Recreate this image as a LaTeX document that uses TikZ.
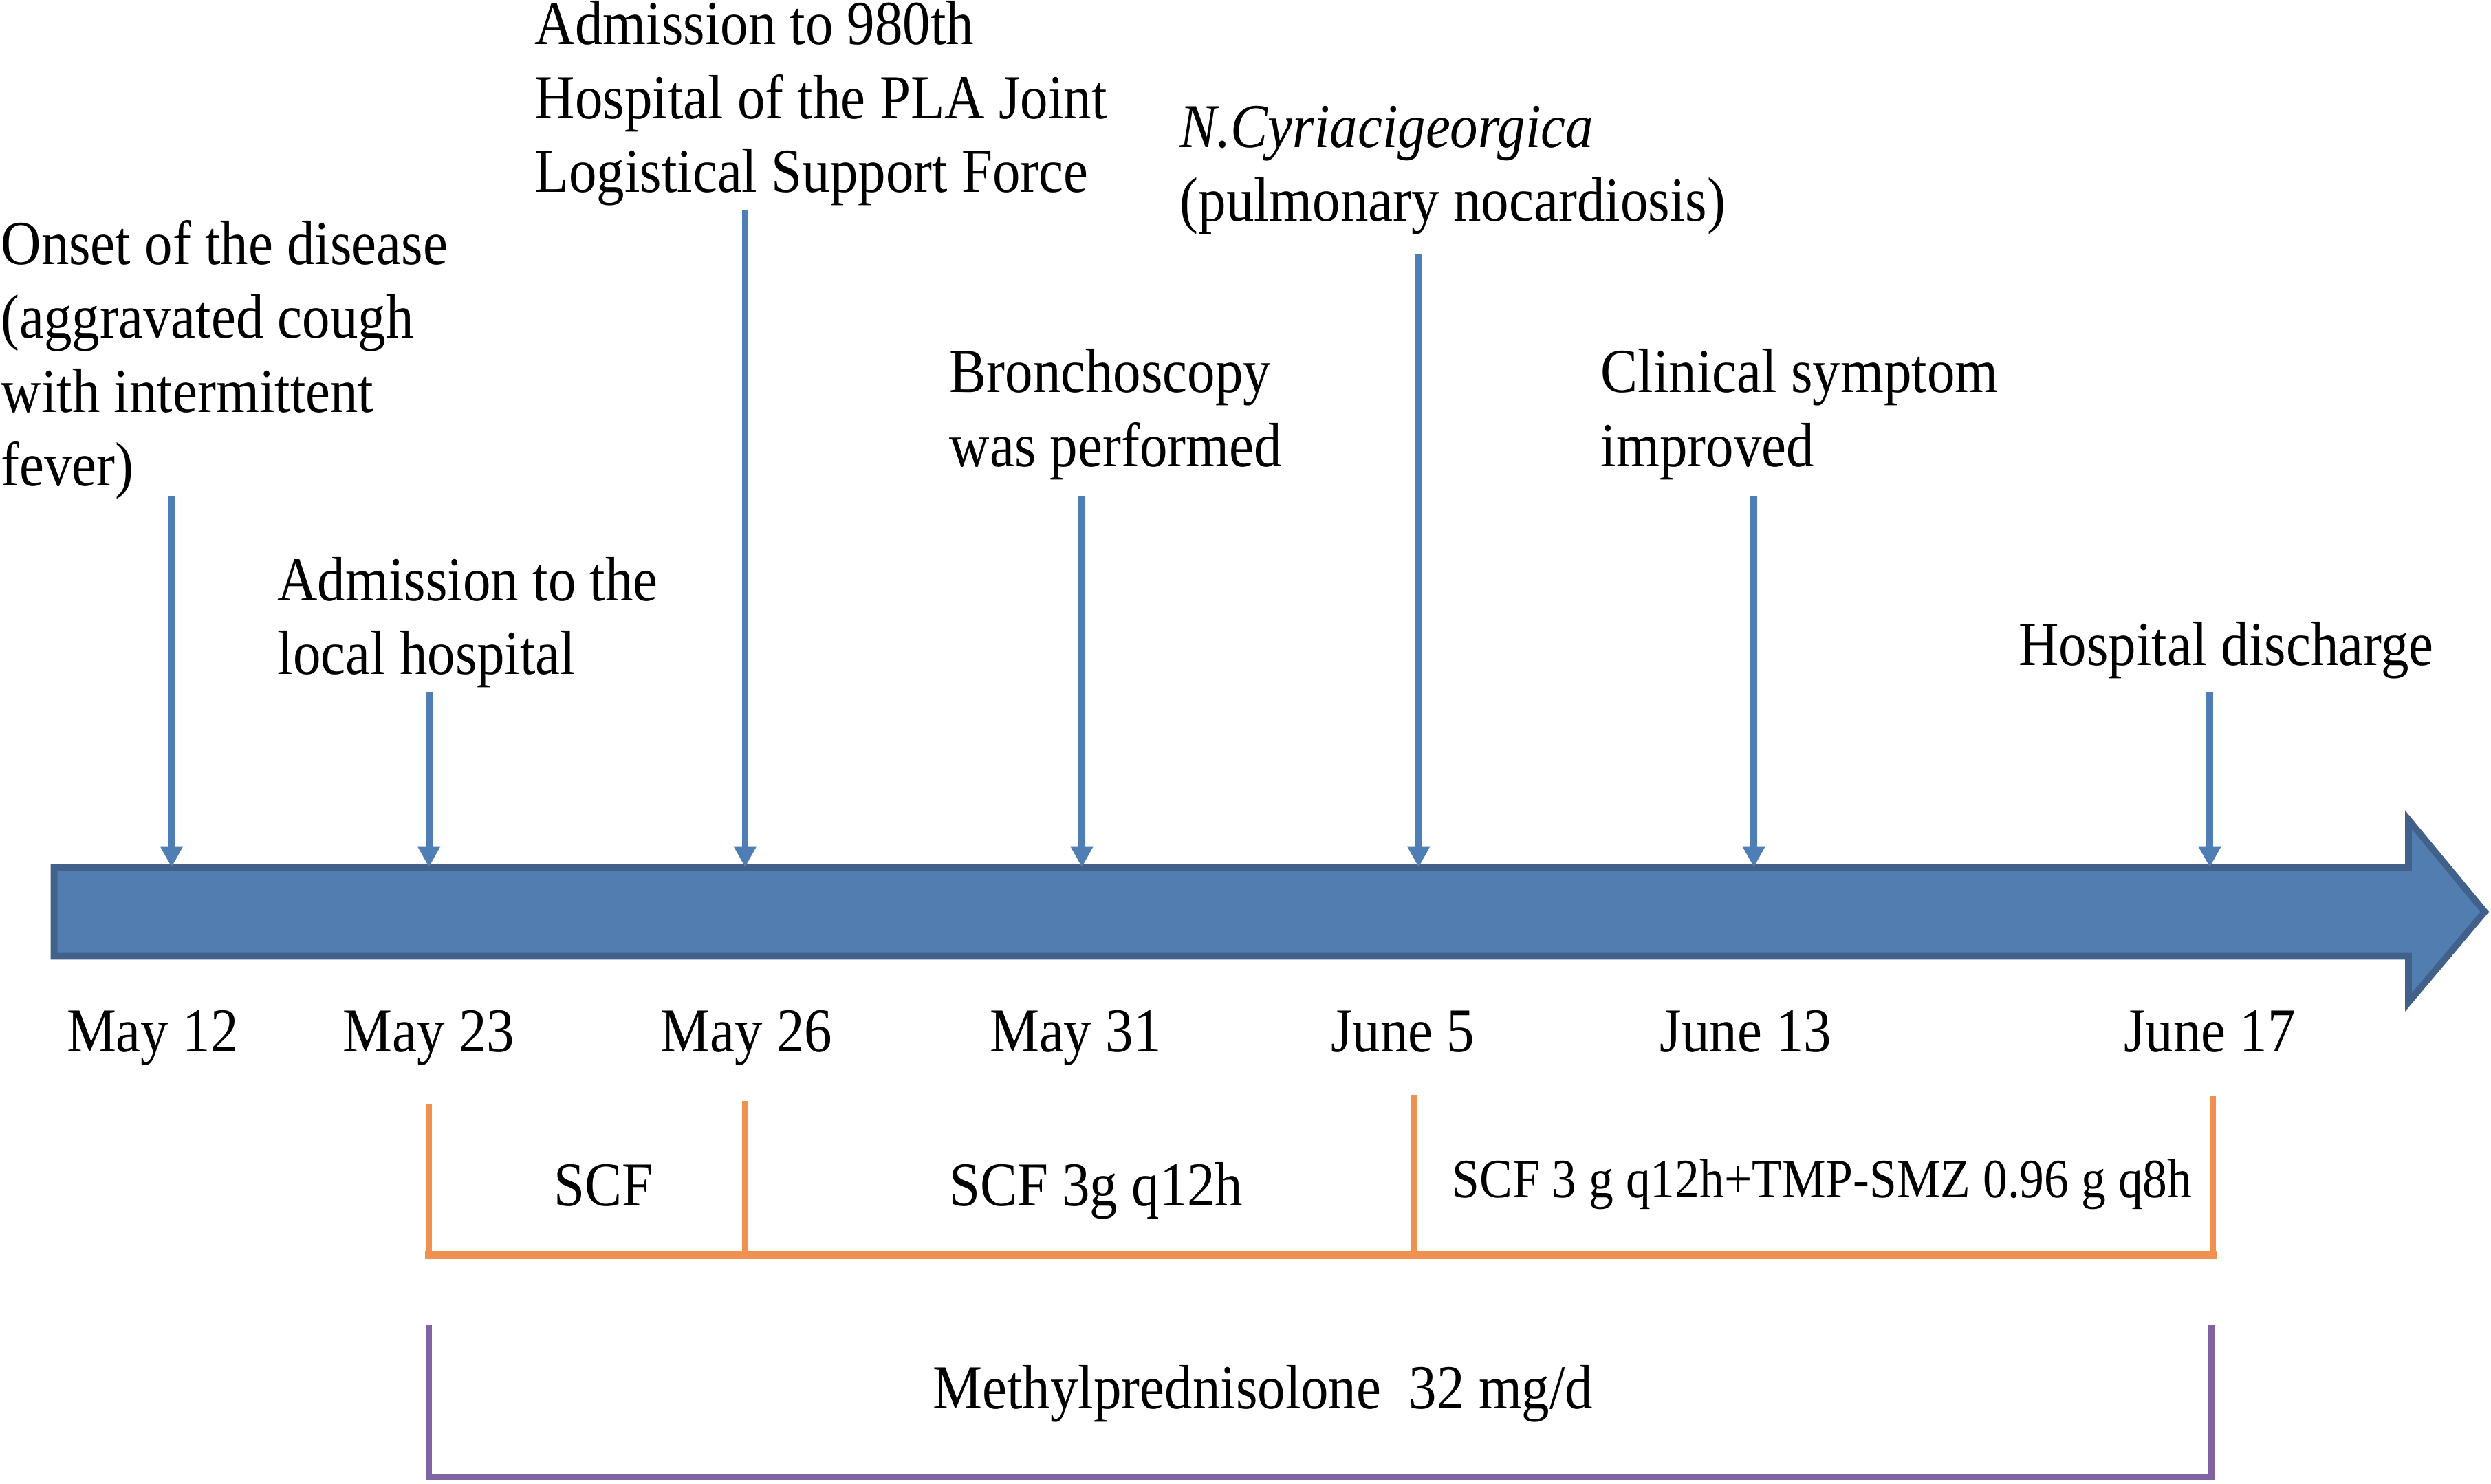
\documentclass[tikz,border=0pt]{standalone}
\usepackage{fontspec}
\setmainfont{Liberation Serif}[FakeStretch=0.89]
\usetikzlibrary{arrows.meta}
\definecolor{barblue}{RGB}{81,125,176}
\definecolor{baredge}{RGB}{65,96,138}
\definecolor{lineblue}{RGB}{79,126,180}
\definecolor{scforange}{RGB}{240,145,82}
\definecolor{mppurple}{RGB}{128,100,162}

\begin{document}
\begin{tikzpicture}[line join=miter,>={Triangle[width=1.36mm,length=1.33mm]},x=0.1mm,y=-0.1mm]
  \tikzset{
  % text of the events above the time line
  event/.style={anchor=north west, inner sep=0pt, align=left,
    font=\fontsize{11.2}{13.23}\selectfont},
  % dates and doses, set on their baseline
  date/.style={anchor=base, inner sep=0pt,
    font=\fontsize{11.2}{13.23}\selectfont},
  % arrows pointing down to the time line
  pointer/.style={->, lineblue, line width=1.2pt},
  % brackets of the treatment
  scf/.style={scforange, line width=1pt, line cap=rect},
  mp/.style={mppurple, line width=1pt, line cap=rect},
}

\useasboundingbox (0,0) rectangle (1568,934);

% the time line
\draw [fill=barblue, draw=baredge, line width=1.2pt] (34,546) -- (1516,546) -- (1516,516)
  -- (1564,574) -- (1516,631) -- (1516,602) -- (34,602) -- cycle;

% events
\node[event] (onset) at (0,138) {Onset of the disease\\(aggravated cough\\with intermittent\\fever)};
\node[event] (local) at (174,350) {Admission to the\\local hospital};
\node[event] (pla) at (336,0) {Admission to 980th\\Hospital of the PLA Joint\\Logistical Support Force};
\node[event] (broncho) at (597,219) {Bronchoscopy\\was performed};
\node[event] (nocard) at (742,66) {\textit{N.Cyriacigeorgica}\\(pulmonary nocardiosis)};
\node[event] (improve) at (1007,219) {Clinical symptom\\improved};
\node[event] (discharge) at (1270,391) {Hospital discharge};

\coordinate (onset top) at (108,312);
\coordinate (onset end) at (108,546);
\coordinate (local top) at (270,436);
\coordinate (local end) at (270,546);
\coordinate (pla top) at (469,132);
\coordinate (pla end) at (469,546);
\coordinate (broncho top) at (681,312);
\coordinate (broncho end) at (681,546);
\coordinate (nocard top) at (893,160);
\coordinate (nocard end) at (893,546);
\coordinate (improve top) at (1104,312);
\coordinate (improve end) at (1104,546);
\coordinate (discharge top) at (1391,436);
\coordinate (discharge end) at (1391,546);

\draw [pointer] (onset top) -- (onset end);
\draw [pointer] (local top) -- (local end);
\draw [pointer] (pla top) -- (pla end);
\draw [pointer] (broncho top) -- (broncho end);
\draw [pointer] (nocard top) -- (nocard end);
\draw [pointer] (improve top) -- (improve end);
\draw [pointer] (discharge top) -- (discharge end);

% dates
\node[date] (may12) at (96,662) {May 12};
\node[date] (may23) at (270,662) {May 23};
\node[date] (may26) at (470,662) {May 26};
\node[date] (may31) at (677,662) {May 31};
\node[date] (june5) at (883,662) {June 5};
\node[date] (june13) at (1099,662) {June 13};
\node[date] (june17) at (1391,662) {June 17};

% antibiotics
\coordinate (scf a) at (270,697);
\coordinate (scf a end) at (270,790);
\coordinate (scf b) at (469,695);
\coordinate (scf b end) at (469,790);
\coordinate (scf c) at (890,691);
\coordinate (scf c end) at (890,790);
\coordinate (scf d) at (1393,692);
\coordinate (scf d end) at (1393,790);
\draw [scf] (scf a) -- (scf a end);
\draw [scf] (scf b) -- (scf b end);
\draw [scf] (scf c) -- (scf c end);
\draw [scf] (scf d) -- (scf d end);
\draw [scf, line width=1.4pt] (scf a end) -- (scf d end);

\node[date] (scf1) at (380,759) {SCF};
\node[date] (scf2) at (690,759) {SCF 3g q12h};
\node[date, font=\fontsize{9.9}{12}\selectfont] (scf3) at (1147,754) {SCF 3 g q12h+TMP-SMZ 0.96 g q8h};

% steroid
\coordinate (mp a) at (270,836);
\coordinate (mp a end) at (270,930);
\coordinate (mp b) at (1392,836);
\coordinate (mp b end) at (1392,930);
\draw [mp] (mp a) -- (mp a end) -- (mp b end) -- (mp b);
\node[date] (mpdose) at (795,887) {Methylprednisolone\ \ 32 mg/d};
\end{tikzpicture}
\end{document}
